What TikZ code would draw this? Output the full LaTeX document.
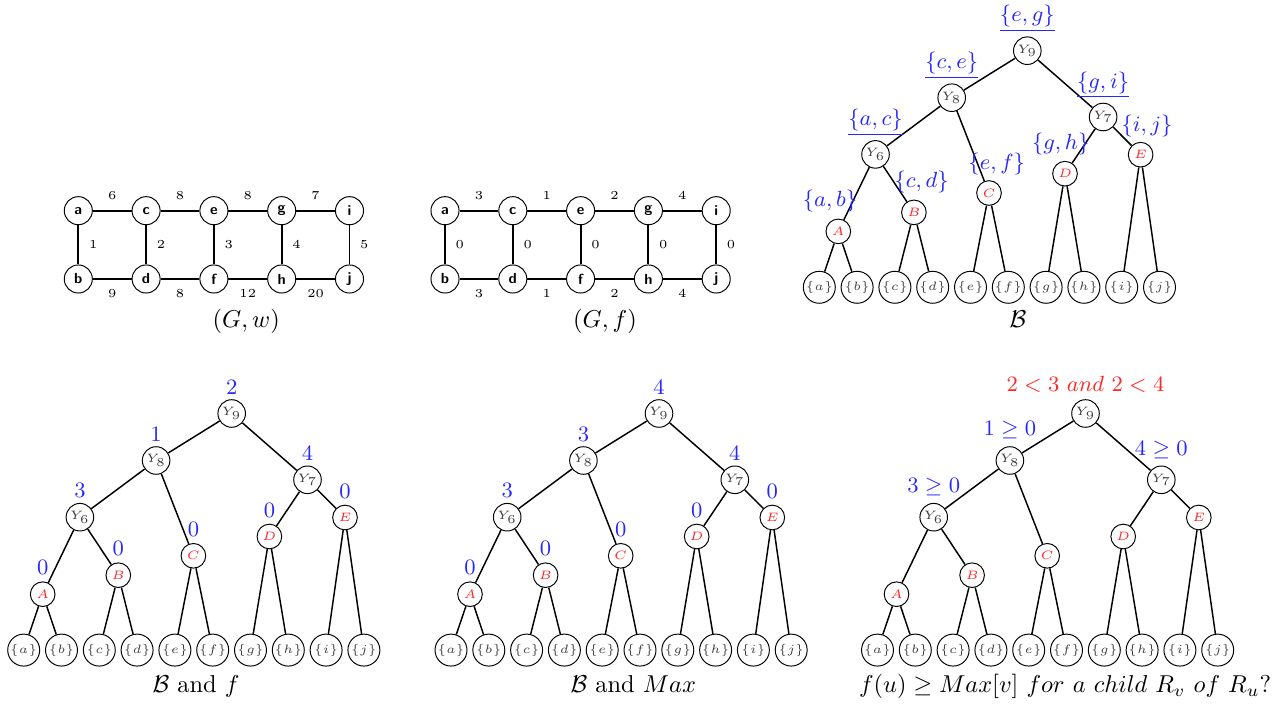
\documentclass[tikz,border=0pt]{standalone}
\usepackage{fontspec}
\newcommand{\keycolor}{red!85}
\newcommand{\setcolor}{blue!85}
\tikzset{
  vtx/.style={circle,draw,thin,minimum size=11.5pt,inner sep=0pt,font=\fontsize{6}{7}\selectfont\sffamily\bfseries},
  wt/.style={font=\tiny,inner sep=1pt},
  gedge/.style={thick},
  ynode/.style={circle,draw,thin,minimum size=11.3pt,inner sep=0pt,font=\tiny,text=black!75},
  rnode/.style={circle,draw,thin,minimum size=10.1pt,inner sep=0pt,font=\tiny,text=\keycolor},
  leaf/.style={circle,draw,thin,minimum size=13.1pt,inner sep=0pt,font=\tiny,text=black!75},
  tedge/.style={semithick},
  lbl/.style={font=\small,text=\setcolor,inner sep=0pt},
  captxt/.style={anchor=base}
}
\newcommand{\ladder}[3]
{   \foreach \n [count=\k from 0] in {a,c,e,g,i} \node[vtx] (\n) at (67.8*\k,0) {\n};
    \foreach \n [count=\k from 0] in {b,d,f,h,j} \node[vtx] (\n) at (67.8*\k,68.3) {\n};
    \foreach \u/\v/\w in {#1} \draw[gedge] (\u) -- node[wt,above=3pt] (w\u\v) {\w} (\v);
    \foreach \u/\v/\w in {#2} \draw[gedge] (\u) -- node[wt,right=3pt] (w\u\v) {\w} (\v);
    \foreach \u/\v/\w in {#3} \draw[gedge] (\u) -- node[wt,below=3pt] (w\u\v) {\w} (\v);
}
\newcommand{\bintree}
{   \node[ynode] (Y9) at (0,0) {$Y_9$};
    \node[ynode] (Y8) at (-75.6,47) {$Y_8$};
    \node[ynode] (Y7) at (75.8,66.3) {$Y_7$};
    \node[ynode] (Y6) at (-151.8,103.7) {$Y_6$};
    \node[rnode] (E) at (113.3,104) {$E$};
    \node[rnode] (D) at (37.7,123) {$D$};
    \node[rnode] (C) at (-38.3,142.3) {$C$};
    \node[rnode] (B) at (-113.4,161.7) {$B$};
    \node[rnode] (A) at (-189,180.7) {$A$};
    \foreach \s [count=\k from 0] in {a,b,c,d,e,f,g,h,i,j}
      \node[leaf] (l\s) at (-208+37.8*\k,236.6) {$\{\s\}$};
    \foreach \p/\c in {Y9/Y8,Y9/Y7,Y8/Y6,Y8/C,Y6/A,Y6/B,Y7/D,Y7/E,A/la,A/lb,B/lc,B/ld,C/le,C/lf,D/lg,D/lh,E/li,E/lj}
      \draw[tedge] (\p) -- (\c);
}

\begin{document}
\begin{tikzpicture}[x=0.0144cm,y=-0.0144cm]
\useasboundingbox (0,0) rectangle (1285,705);

\begin{scope}[shift={(78.3,210.7)},name prefix=w-]
  \ladder{a/c/6,c/e/8,e/g/8,g/i/7}{a/b/1,c/d/2,e/f/3,g/h/4,i/j/5}{b/d/9,d/f/8,f/h/12,h/j/20}
\end{scope}
\node[captxt] (capw) at (246.3,327.8) {$(G,w)$};

\begin{scope}[shift={(445,210.7)},name prefix=f-]
  \ladder{a/c/3,c/e/1,e/g/2,g/i/4}{a/b/0,c/d/0,e/f/0,g/h/0,i/j/0}{b/d/3,d/f/1,f/h/2,h/j/4}
\end{scope}
\node[captxt] (capf) at (605,327.8) {$(G,f)$};

\begin{scope}[shift={(1027.3,50.7)},name prefix=s-]
  \bintree
  \node[lbl] (kY9) at ([shift={(0,-32)}]Y9) {$\underline{\{e,g\}}$};
  \node[lbl] (kY8) at ([shift={(0,-32)}]Y8) {$\underline{\{c,e\}}$};
  \node[lbl] (kY7) at ([shift={(0,-32)}]Y7) {$\underline{\{g,i\}}$};
  \node[lbl] (kY6) at ([shift={(0,-32)}]Y6) {$\underline{\{a,c\}}$};
  \node[lbl] (kE) at ([shift={(6.3,-28.6)}]E) {$\{i,j\}$};
  \node[lbl] (kD) at ([shift={(-4.3,-29.3)}]D) {$\{g,h\}$};
  \node[lbl] (kC) at ([shift={(7.7,-29.4)}]C) {$\{e,f\}$};
  \node[lbl] (kB) at ([shift={(7.7,-30.6)}]B) {$\{c,d\}$};
  \node[lbl] (kA) at ([shift={(-8.3,-30)}]A) {$\{a,b\}$};
\end{scope}
\node[captxt] (capB) at (1018,327.8) {$\mathcal{B}$};

\begin{scope}[shift={(231.7,413.5)},name prefix=m-]
  \bintree
  \foreach \n/\t in {Y9/2,Y8/1,Y7/4,Y6/3,E/0,D/0,C/0,B/0,A/0}
    \node[lbl] (k\n) at ([shift={(0,-26.5)}]\n) {$\t$};
\end{scope}
\node[captxt] (capmf) at (196,692.8) {$\mathcal{B}$ and $f$};

\begin{scope}[shift={(659,413.5)},name prefix=x-]
  \bintree
  \foreach \n/\t in {Y9/4,Y8/3,Y7/4,Y6/3,E/0,D/0,C/0,B/0,A/0}
    \node[lbl] (k\n) at ([shift={(0,-26.5)}]\n) {$\t$};
\end{scope}
\node[captxt] (capmax) at (633.3,692.8) {$\mathcal{B}$ and $Max$};

\begin{scope}[shift={(1085.5,413.5)},name prefix=q-]
  \bintree
  \node[lbl,text=\keycolor] (kY9) at ([shift={(0,-29)}]Y9) {$2<3\ and\ 2<4$};
  \node[lbl] (kY8) at ([shift={(0,-30)}]Y8) {$1\geq 0$};
  \node[lbl] (kY7) at ([shift={(0,-30)}]Y7) {$4\geq 0$};
  \node[lbl] (kY6) at ([shift={(0,-30)}]Y6) {$3\geq 0$};
\end{scope}
\node[captxt] (capq) at (1065,692.8) {$f(u)\geq Max[v]\ for\ a\ child\ R_v\ of\ R_u?$};

\end{tikzpicture}
\end{document}
